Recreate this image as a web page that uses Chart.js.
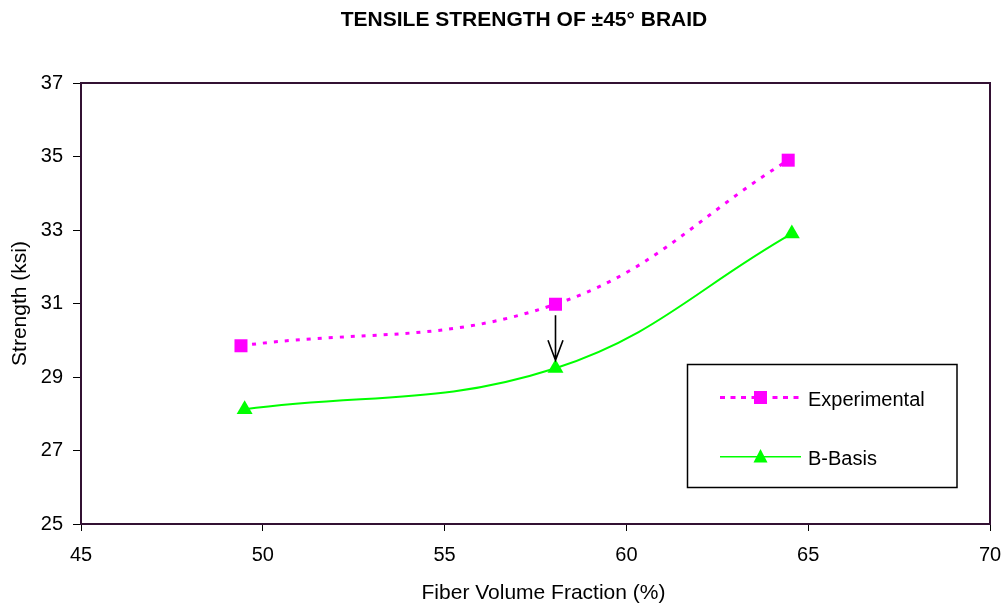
<!DOCTYPE html>
<html>
<head>
<meta charset="utf-8">
<script src="https://cdn.jsdelivr.net/npm/chart.js@4.4.1/dist/chart.umd.min.js"></script>
<style>
  html, body { margin: 0; padding: 0; background: #ffffff; }
  #wrap { width: 1007px; height: 606px; position: relative; }
</style>
</head>
<body>
<div id="wrap"><canvas id="c" width="1007" height="606"></canvas></div>
<script>
// Text
const chartTitle = 'TENSILE STRENGTH OF \u00B145\u00B0 BRAID';
const xAxisTitle = 'Fiber Volume Fraction (%)';
const yAxisTitle = 'Strength (ksi)';
const seriesNames = ['Experimental', 'B-Basis'];

// Measured tensile strength vs fibre volume fraction
const experimentalFiber = [49.4, 58.05, 64.45];
const experimentalStrength = [29.85, 30.98, 34.9];
const bBasisFiber = [49.5, 58.05, 64.55];
const bBasisStrength = [28.12, 29.24, 32.9];

// Axis ticks
const xTicks = [45, 50, 55, 60, 65, 70];
const yTicks = [25, 27, 29, 31, 33, 35, 37];

const FONT = "'Liberation Sans', Arial, Helvetica, sans-serif";
const FRAME = '#331133';
const MAGENTA = '#ff00ff';
const GREEN = '#00ff00';

function toPoints(xs, ys) {
  return xs.map((x, i) => ({ x: x, y: ys[i] }));
}

// Frame, titles, arrow and boxed legend
const decorations = {
  id: 'decorations',
  beforeDatasetsDraw(chart) {
    const { ctx, chartArea: a } = chart;
    ctx.save();
    ctx.strokeStyle = FRAME;
    ctx.lineWidth = 2;
    ctx.strokeRect(a.left, a.top, a.right - a.left, a.bottom - a.top);
    ctx.restore();
  },
  afterDatasetsDraw(chart) {
    const { ctx, chartArea: a } = chart;
    const xs = chart.scales.x, ys = chart.scales.y;
    ctx.save();

    // Chart title
    ctx.fillStyle = '#000';
    ctx.font = 'bold 21px ' + FONT;
    ctx.textAlign = 'center';
    ctx.textBaseline = 'alphabetic';
    ctx.fillText(chartTitle, 524, 25.5);

    // Axis titles
    ctx.font = '21px ' + FONT;
    ctx.fillText(xAxisTitle, 543.5, 599);
    ctx.save();
    ctx.translate(20, (a.top + a.bottom) / 2);
    ctx.rotate(-Math.PI / 2);
    ctx.textBaseline = 'middle';
    ctx.fillText(yAxisTitle, 0, 0);
    ctx.restore();

    // Arrow from the experimental mean down to the B-basis value
    const ax = xs.getPixelForValue(experimentalFiber[1]);
    const y0 = ys.getPixelForValue(experimentalStrength[1]) + 11;
    const y1 = ys.getPixelForValue(bBasisStrength[1]) - 8;
    ctx.strokeStyle = '#000';
    ctx.lineWidth = 1.6;
    ctx.beginPath();
    ctx.moveTo(ax, y0);
    ctx.lineTo(ax, y1);
    ctx.moveTo(ax - 7.5, y1 - 20);
    ctx.lineTo(ax, y1);
    ctx.lineTo(ax + 7.5, y1 - 20);
    ctx.stroke();

    // Legend box
    ctx.strokeStyle = '#000';
    ctx.lineWidth = 1.5;
    ctx.strokeRect(687.5, 364.5, 269.5, 123);

    // Experimental entry
    ctx.strokeStyle = MAGENTA;
    ctx.lineWidth = 3;
    ctx.setLineDash([5, 5.5]);
    ctx.beginPath();
    ctx.moveTo(720, 397.5);
    ctx.lineTo(803, 397.5);
    ctx.stroke();
    ctx.setLineDash([]);
    ctx.fillStyle = MAGENTA;
    ctx.fillRect(754, 391, 13, 13);

    // B-Basis entry
    ctx.strokeStyle = GREEN;
    ctx.lineWidth = 1.5;
    ctx.beginPath();
    ctx.moveTo(720, 456.7);
    ctx.lineTo(801, 456.7);
    ctx.stroke();
    ctx.fillStyle = GREEN;
    ctx.beginPath();
    ctx.moveTo(760.5, 449);
    ctx.lineTo(767.5, 462.5);
    ctx.lineTo(753.5, 462.5);
    ctx.closePath();
    ctx.fill();

    ctx.fillStyle = '#000';
    ctx.font = '20px ' + FONT;
    ctx.textAlign = 'left';
    ctx.textBaseline = 'alphabetic';
    ctx.fillText(seriesNames[0], 808, 405.5);
    ctx.fillText(seriesNames[1], 808, 464.5);

    ctx.restore();
  }
};

new Chart(document.getElementById('c'), {
  type: 'line',
  data: {
    datasets: [
      {
        label: seriesNames[0],
        data: toPoints(experimentalFiber, experimentalStrength),
        borderColor: MAGENTA,
        backgroundColor: MAGENTA,
        borderWidth: 3,
        borderDash: [4, 7],
        tension: 0.4,
        pointStyle: 'rect',
        pointRadius: 9.2,
        pointHoverRadius: 9.2,
        pointBorderWidth: 0,
        pointBackgroundColor: MAGENTA,
        fill: false
      },
      {
        label: seriesNames[1],
        data: toPoints(bBasisFiber, bBasisStrength),
        borderColor: GREEN,
        backgroundColor: GREEN,
        borderWidth: 2,
        tension: 0.4,
        pointStyle: 'triangle',
        pointRadius: 9.2,
        pointHoverRadius: 9.2,
        pointBorderWidth: 0,
        pointBackgroundColor: GREEN,
        fill: false
      }
    ]
  },
  options: {
    responsive: false,
    animation: false,
    devicePixelRatio: 1,
    events: [],
    layout: { padding: { left: 0, top: 83, right: 17, bottom: 0 } },
    plugins: {
      legend: { display: false },
      title: { display: false },
      tooltip: { enabled: false }
    },
    scales: {
      x: {
        type: 'linear',
        min: xTicks[0],
        max: xTicks[xTicks.length - 1],
        afterBuildTicks(scale) { scale.ticks = xTicks.map(v => ({ value: v })); },
        afterFit(scale) {
          scale.height = 82;
          scale.paddingLeft = 0;
          scale.paddingRight = 0;
        },
        grid: { drawOnChartArea: false, drawTicks: true, tickLength: 7, color: '#000', lineWidth: 1 },
        border: { display: false },
        ticks: { color: '#000', font: { family: FONT, size: 20 }, padding: 12, maxRotation: 0 }
      },
      y: {
        type: 'linear',
        min: yTicks[0],
        max: yTicks[yTicks.length - 1],
        afterBuildTicks(scale) { scale.ticks = yTicks.map(v => ({ value: v })); },
        afterFit(scale) {
          scale.width = 81;
          scale.paddingTop = 0;
          scale.paddingBottom = 0;
        },
        grid: { drawOnChartArea: false, drawTicks: true, tickLength: 8, color: '#000', lineWidth: 1 },
        border: { display: false },
        ticks: { color: '#000', font: { family: FONT, size: 20 }, padding: 10 }
      }
    }
  },
  plugins: [decorations]
});
</script>
</body>
</html>
